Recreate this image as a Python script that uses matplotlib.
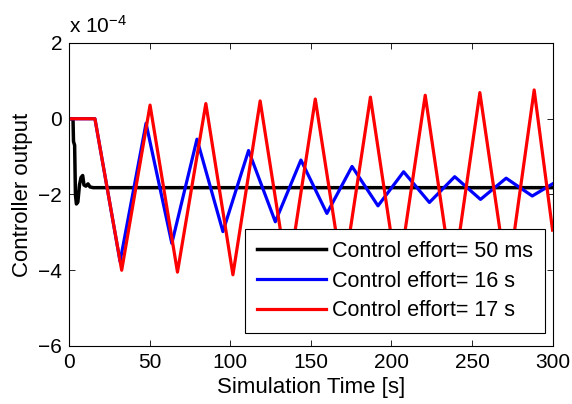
import matplotlib
matplotlib.use("Agg")
import matplotlib.pyplot as plt

plt.rcParams['font.family'] = ['Liberation Sans', 'DejaVu Sans']
plt.rcParams['mathtext.fontset'] = 'custom'
plt.rcParams['mathtext.rm'] = 'Liberation Sans'
plt.rcParams['mathtext.it'] = 'Liberation Sans'

# values in units of 1e-4
black_t = [0, 2.5, 2.8, 3.5, 4.0, 4.6, 5.5, 6.5, 7.5, 8.5, 9.3, 10.5, 11.8, 13, 15, 300]
black_y = [0, 0, -0.6, -0.7, -2.0, -2.25, -2.2, -1.75, -1.55, -1.5, -1.75, -1.78, -1.72, -1.8, -1.82, -1.82]

blue_t = [0, 16.1, 31.7, 47.8, 63.8, 79.4, 95.5, 111.4, 128, 143.9, 160, 175.6,
          191.7, 207.6, 223.6, 239.3, 255.3, 271.2, 287.4, 300]
blue_y = [0, 0, -3.77, -0.12, -3.29, -0.54, -2.98, -0.84, -2.72, -1.09, -2.5, -1.26,
          -2.30, -1.40, -2.21, -1.53, -2.13, -1.57, -2.04, -1.72]

red_t = [0, 16.1, 32.7, 50.3, 67.3, 84.9, 101.7, 118.6, 135.8, 152.8, 170, 187,
         204, 221, 238, 254.9, 272, 288.6, 300]
red_y = [0, 0, -4.0, 0.36, -4.05, 0.4, -4.12, 0.47, -4.2, 0.52, -4.2, 0.57,
         -4.25, 0.62, -4.3, 0.69, -4.3, 0.76, -2.94]

labels = ['Control effort= 50 ms', 'Control effort= 16 s', 'Control effort= 17 s']
xticks = [0, 50, 100, 150, 200, 250, 300]
yticks = [-6, -4, -2, 0, 2]

fig = plt.figure(figsize=(5.72, 4.04), dpi=100)
ax = fig.add_axes([0.1206, 0.1436, 0.8454, 0.75])

ax.plot(black_t, black_y, color='k', lw=2.5, label=labels[0])
ax.plot(blue_t, blue_y, color='b', lw=2.3, label=labels[1])
ax.plot(red_t, red_y, color='r', lw=2.3, label=labels[2])

ax.set_xlim(0, 300)
ax.set_ylim(-6, 2)
ax.set_xticks(xticks)
ax.set_yticks(yticks)
ax.tick_params(direction='in', top=True, right=True, labelsize=15, length=4, width=0.6, pad=5)
for s in ax.spines.values():
    s.set_linewidth(0.8)

ax.set_xlabel('Simulation Time [s]', fontsize=16, labelpad=4)
ax.set_ylabel('Controller output', fontsize=16, labelpad=4)
ax.text(0.0, 1.033, r'x 10$^{-4}$', transform=ax.transAxes, fontsize=15, va='baseline', ha='left')

leg = ax.legend(loc='lower right', bbox_to_anchor=(0.984, 0.043), fontsize=15.5,
                handlelength=3.2, handletextpad=0.3, labelspacing=0.4, borderaxespad=0,
                fancybox=False, framealpha=1, edgecolor='k', borderpad=0.55)
leg.get_frame().set_linewidth(0.8)

fig.savefig('out.png', dpi=100)
